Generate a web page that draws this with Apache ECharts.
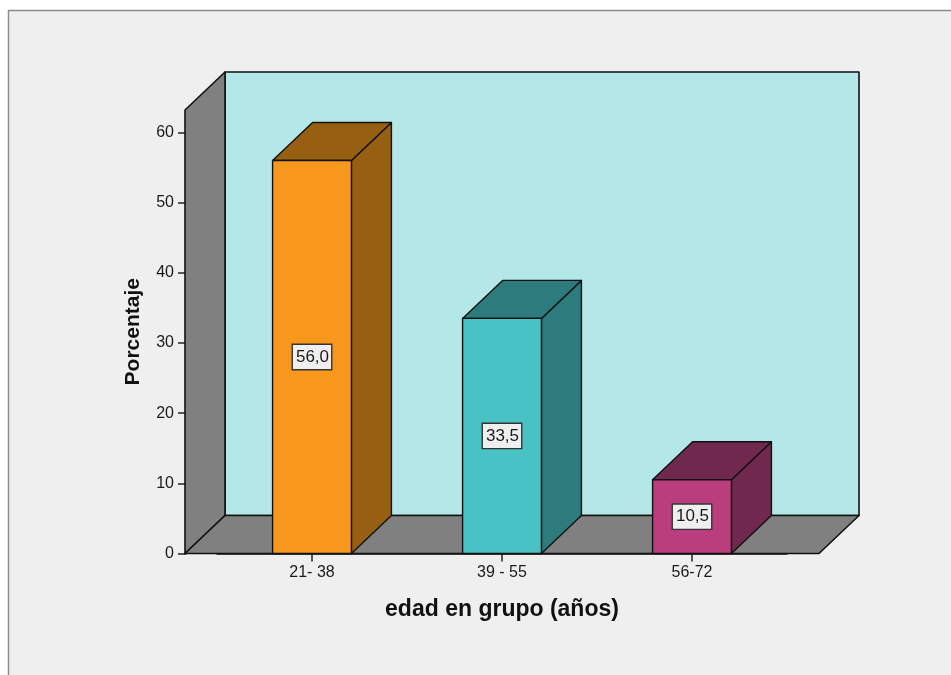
<!DOCTYPE html>
<html>
<head>
<meta charset="utf-8">
<style>
  html, body { margin: 0; padding: 0; background: #ffffff; }
  #chart { width: 951px; height: 675px; }
</style>
<script src="https://cdn.jsdelivr.net/npm/echarts@6/dist/echarts.min.js"></script>
</head>
<body>
<div id="chart"></div>
<script>
// Age groups and their share of respondents (%)
const categories = ['21- 38', '39 - 55', '56-72'];
const porcentaje = [56.0, 33.5, 10.5];
const yTicks = [0, 10, 20, 30, 40, 50, 60];

// Face colours per bar: front face, then the shaded side/top faces
const frontColors = ['#F7981D', '#48C2C5', '#BA3E7D'];
const shadeColors = ['#975F11', '#2D7B7C', '#71284E'];

// Depth of the pseudo-3D box, in pixels
const DEPTH_X = 40;
const DEPTH_Y = 38;
// How far the floor and side wall reach past the outer bars
const PAD = 32;

const chart = echarts.init(document.getElementById('chart'));

function fmt(v) {
  return v.toFixed(1).replace('.', ',');
}

function renderWalls(params, api) {
  const cs = params.coordSys;
  const base = api.coord([0, 0])[1];
  const top = cs.y;
  const L = cs.x - PAD;
  const R = cs.x + cs.width + PAD;
  const edge = { stroke: '#111', lineWidth: 1.6, lineJoin: 'round' };
  return {
    type: 'group',
    children: [
      {
        type: 'polygon',
        shape: { points: [[L + DEPTH_X, top - DEPTH_Y], [R + DEPTH_X, top - DEPTH_Y], [R + DEPTH_X, base - DEPTH_Y], [L + DEPTH_X, base - DEPTH_Y]] },
        style: Object.assign({ fill: '#B4E7E8' }, edge)
      },
      {
        type: 'polygon',
        shape: { points: [[L, base], [L, top], [L + DEPTH_X, top - DEPTH_Y], [L + DEPTH_X, base - DEPTH_Y]] },
        style: Object.assign({ fill: '#808080' }, edge)
      },
      {
        type: 'polygon',
        shape: { points: [[L, base], [R, base], [R + DEPTH_X, base - DEPTH_Y], [L + DEPTH_X, base - DEPTH_Y]] },
        style: Object.assign({ fill: '#808080' }, edge)
      }
    ]
  };
}

function renderBar(params, api) {
  const idx = api.value(0);
  const val = api.value(1);
  const topPt = api.coord([idx, val]);
  const basePt = api.coord([idx, 0]);
  const w = api.size([1, 0])[0] * 0.415;
  const x0 = topPt[0] - w / 2;
  const x1 = topPt[0] + w / 2;
  const yT = topPt[1];
  const yB = basePt[1];
  const edge = { stroke: '#111', lineWidth: 1.4, lineJoin: 'round' };
  const i = params.dataIndex;
  return {
    type: 'group',
    children: [
      {
        type: 'polygon',
        shape: { points: [[x1, yB], [x1 + DEPTH_X, yB - DEPTH_Y], [x1 + DEPTH_X, yT - DEPTH_Y], [x1, yT]] },
        style: Object.assign({ fill: shadeColors[i] }, edge)
      },
      {
        type: 'polygon',
        shape: { points: [[x0, yT], [x0 + DEPTH_X, yT - DEPTH_Y], [x1 + DEPTH_X, yT - DEPTH_Y], [x1, yT]] },
        style: Object.assign({ fill: shadeColors[i] }, edge)
      },
      {
        type: 'rect',
        shape: { x: x0, y: yT, width: w, height: yB - yT },
        style: Object.assign({ fill: frontColors[i] }, edge),
        textContent: {
          style: {
            text: fmt(val),
            fill: '#1a1a1a',
            fontFamily: 'Liberation Sans',
            fontSize: 17,
            backgroundColor: '#EFEFEF',
            borderColor: '#333',
            borderWidth: 1.4,
            padding: [4, 2, 3, 3]
          }
        },
        textConfig: { position: 'inside' }
      }
    ]
  };
}

const option = {
  animation: false,
  backgroundColor: '#ffffff',
  textStyle: { fontFamily: 'Liberation Sans' },
  graphic: [
    {
      type: 'rect',
      z: -10,
      silent: true,
      shape: { x: 8.5, y: 10.5, width: 1000, height: 1000 },
      style: { fill: '#EFEFEF', stroke: '#8C8C8C', lineWidth: 1.5 }
    }
  ],
  grid: { left: 217, right: 164, top: 110, bottom: 121.5, containLabel: false },
  xAxis: {
    type: 'category',
    data: categories,
    name: 'edad en grupo (años)',
    nameLocation: 'middle',
    nameGap: 45,
    nameTextStyle: { fontFamily: 'Liberation Sans', fontWeight: 'bold', fontSize: 23, color: '#111' },
    axisLine: { show: true, lineStyle: { color: '#111', width: 1.6 } },
    axisTick: { show: true, alignWithLabel: true, length: 8, lineStyle: { color: '#222', width: 1.5 } },
    axisLabel: { fontFamily: 'Liberation Sans', fontSize: 16, color: '#1a1a1a', margin: 11 },
    splitLine: { show: false }
  },
  yAxis: {
    type: 'value',
    min: 0,
    max: 63.2,
    offset: 31,
    name: 'Porcentaje',
    nameLocation: 'middle',
    nameGap: 42,
    nameRotate: 90,
    nameTextStyle: { fontFamily: 'Liberation Sans', fontWeight: 'bold', fontSize: 21, color: '#111' },
    axisLine: { show: true, lineStyle: { color: '#111', width: 1.6 } },
    axisTick: { show: true, length: 8, customValues: yTicks, lineStyle: { color: '#222', width: 1.5 } },
    axisLabel: { fontFamily: 'Liberation Sans', fontSize: 16, color: '#1a1a1a', margin: 12, customValues: yTicks },
    splitLine: { show: false }
  },
  series: [
    {
      type: 'custom',
      z: 1,
      silent: true,
      renderItem: renderWalls,
      data: [[0, 0]],
      clip: false
    },
    {
      type: 'custom',
      z: 3,
      renderItem: renderBar,
      data: porcentaje.map((v, i) => [i, v]),
      encode: { x: 0, y: 1 },
      clip: false
    }
  ]
};

chart.setOption(option);
</script>
</body>
</html>
